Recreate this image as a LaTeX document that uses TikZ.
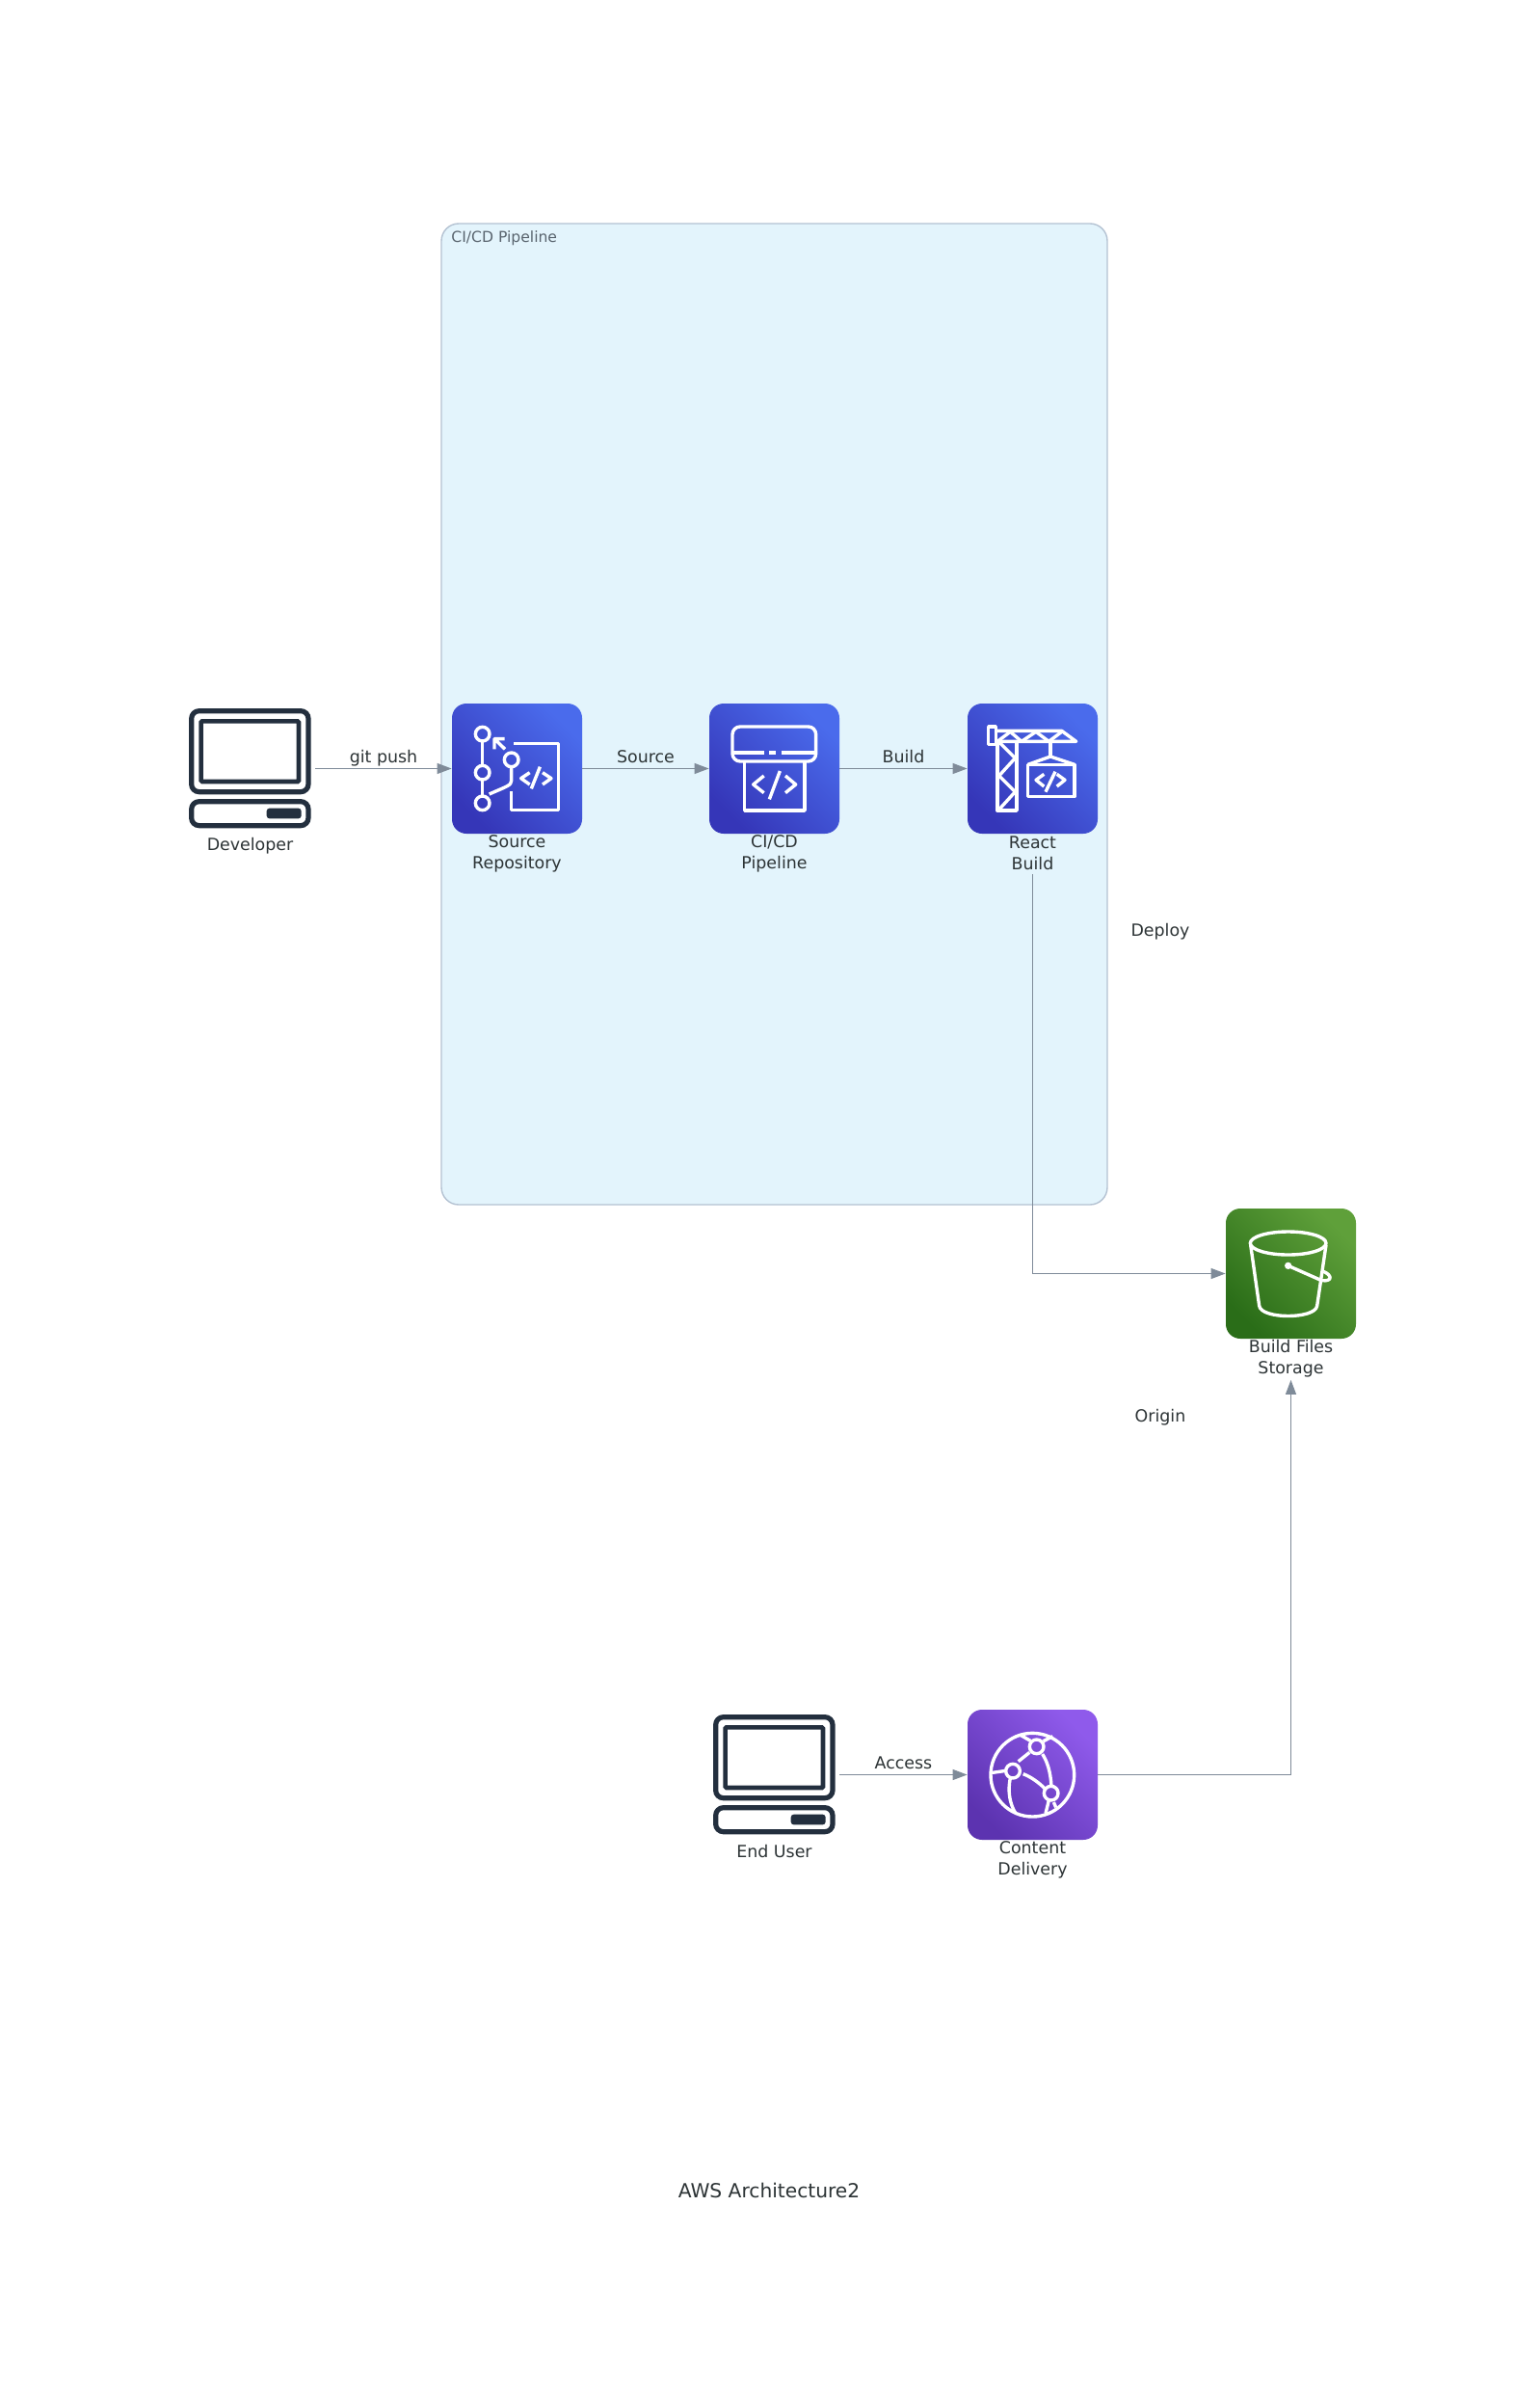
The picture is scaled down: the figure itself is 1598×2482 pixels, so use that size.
\documentclass[tikz,border=0pt]{standalone}
\usepackage{fontspec}
\setmainfont{DejaVu Sans}
\usetikzlibrary{arrows.meta,calc}
\definecolor{inkc}{HTML}{232F3E}
\definecolor{txtc}{HTML}{2D3436}
\definecolor{edgec}{HTML}{7F8B99}
\definecolor{clusterfill}{HTML}{E3F4FC}
\definecolor{clusterline}{HTML}{B4C2D2}
\definecolor{clustertext}{HTML}{59646E}
\definecolor{bluedark}{HTML}{3536B8}
\definecolor{bluelight}{HTML}{4A6BEC}
\definecolor{greendark}{HTML}{2A6D18}
\definecolor{greenlight}{HTML}{5FA03A}
\definecolor{purpledark}{HTML}{5C33B0}
\definecolor{purplelight}{HTML}{8F5AEB}
\tikzset{
  tile/.style={minimum size=67.5pt,inner sep=0pt,rounded corners=7.5pt,shade,shading=axis,bottom color=#1dark,top color=#1light,shading angle=-45},
  ghostbox/.style={minimum size=67.5pt,inner sep=0pt},
  caption/.style={font=\fontsize{8.7pt}{11pt}\selectfont,text=txtc,align=center,inner sep=0pt,minimum height=22pt},
  edgelabel/.style={font=\fontsize{8.7pt}{11pt}\selectfont,text=txtc,inner sep=0pt},
  flowlabel/.style={edgelabel,anchor=base,yshift=2.9pt},
  flow/.style={draw=edgec,line width=0.6pt,-{Triangle[length=7.5pt,width=5.5pt,fill=edgec]}},
  iconat/.style={shift={#1},x=0.16667pt,y=-0.16667pt},
  iconline/.style={draw=white,line width=1.7pt,line join=round,line cap=butt},
  pics/computer/.style={code={
    \draw[draw=inkc,line width=2.6pt,rounded corners=4pt] (8,8) rectangle (372,260);
    \draw[draw=inkc,line width=2.3pt,rounded corners=0.6pt] (38,40) rectangle (342,228);
    \draw[draw=inkc,line width=2.6pt,rounded corners=4pt] (8,290) rectangle (372,365);
    \fill[inkc,rounded corners=1.5pt] (242,311) rectangle (350,343);
  }}
}
\begin{document}
\begin{tikzpicture}[x=0.5pt,y=-0.5pt]
\useasboundingbox[fill=white] (0,0) rectangle (1598,2482);
% cluster
\node[draw=clusterline,fill=clusterfill,line width=0.7pt,rounded corners=9pt,minimum width=345.5pt,minimum height=509pt,inner sep=0pt] (cluster) at (803.5,741) {};
\node[anchor=west,font=\fontsize{7.8pt}{9pt}\selectfont,text=clustertext,inner sep=0pt] (clusterlabel) at (468,247) {CI/CD Pipeline};
% tiles
\node[tile=blue] (src) at (536.5,797.5) {};
\node[tile=blue] (cicd) at (803.5,797.5) {};
\node[tile=blue] (react) at (1071.5,797.5) {};
\node[tile=green] (s3) at (1339.5,1321.5) {};
\node[tile=purple] (cdn) at (1071.5,1841.5) {};
\node[ghostbox] (dev) at (259.5,797.5) {};
\node[ghostbox] (user) at (803.5,1841.5) {};
% computers
\begin{scope}[iconat={(196,735)}] \pic {computer}; \end{scope}
\begin{scope}[iconat={(740,1779)}] \pic {computer}; \end{scope}
% source repository icon
\begin{scope}[iconat={(469,730)}]
  \draw[iconline] (95,95) circle[radius=22] (95,215) circle[radius=22] (95,310) circle[radius=22] (185,175) circle[radius=22];
  \draw[iconline] (95,117) -- (95,193) (95,237) -- (95,288);
  \draw[iconline] (185,197) -- (185,240) .. controls (185,255) and (170,258) .. (116,282);
  \draw[iconline] (165,142) -- (132,110) (132,142) -- (132,110) -- (164,110);
  \draw[iconline] (192,125) -- (332,125) -- (332,332) -- (185,332) -- (185,272);
  \draw[iconline] (242,215) -- (215,233) -- (242,252);
  \draw[iconline] (274,197) -- (247,265);
  \draw[iconline] (282,215) -- (309,233) -- (282,252);
\end{scope}
% pipeline icon
\begin{scope}[iconat={(736,730)}]
  \draw[iconline,rounded corners=4pt] (72,72) rectangle (332,180);
  \draw[iconline] (72,153) -- (170,153) (187,153) -- (207,153) (224,153) -- (332,153);
  \draw[iconline] (110,180) -- (110,333) -- (297,333) -- (297,180);
  \draw[iconline] (170,225) -- (137,252) -- (170,278);
  \draw[iconline] (220,210) -- (187,298);
  \draw[iconline] (237,225) -- (269,252) -- (237,278);
\end{scope}
% crane icon
\begin{scope}[iconat={(1004,730)}]
  \draw[iconline] (65,72) rectangle (88,127);
  \draw[iconline] (88,85) -- (293,85) -- (338,118) -- (88,118);
  \draw[iconline] (93,118) -- (133,88) -- (168,118) -- (213,88) -- (253,118) -- (293,88);
  \draw[iconline] (93,118) -- (93,333) -- (153,333) -- (153,118);
  \draw[iconline] (98,120) -- (148,170) -- (98,225) -- (148,275) -- (98,330);
  \draw[iconline] (258,118) -- (258,165);
  \draw[iconline] (188,190) rectangle (333,290);
  \draw[iconline] (188,190) -- (258,165) -- (333,190);
  \draw[iconline] (238,220) -- (213,238) -- (238,258);
  \draw[iconline] (273,212) -- (243,275);
  \draw[iconline] (278,220) -- (303,238) -- (278,258);
\end{scope}
% bucket icon
\begin{scope}[iconat={(1272,1254)}]
  \draw[iconline] (194,108) ellipse[x radius=118,y radius=36];
  \draw[iconline] (77,113) -- (104,303) .. controls (110,345) and (278,345) .. (284,303) -- (312,113);
  \fill[white] (194,178) circle[radius=11];
  \draw[iconline] (304,196) .. controls (332,208) and (332,228) .. (298,224) -- (194,178);
\end{scope}
% cdn icon
\begin{scope}[iconat={(1004,1774)}]
  \draw[iconline] (202,203) circle[radius=130];
  \draw[iconline] (215,115) circle[radius=22] (141,191) circle[radius=22] (260,260) circle[radius=22];
  \draw[iconline] (158,161) -- (193,133);
  \draw[iconline] (233,138) .. controls (250,165) and (258,195) .. (261,238);
  \draw[iconline] (173,200) .. controls (195,208) and (220,225) .. (240,245);
  \draw[iconline] (133,213) .. controls (125,250) and (130,290) .. (148,320);
  \draw[iconline] (78,196) -- (119,190);
  \draw[iconline] (163,78) -- (196,97);
  \draw[iconline] (236,98) -- (265,83);
  \draw[iconline] (253,282) -- (243,323);
  \draw[iconline] (268,288) -- (275,304);
\end{scope}
% captions
\node[caption] (devcap) at (259.5,878) {Developer};
\node[caption] (srccap) at (536.5,886) {Source\\Repository};
\node[caption] (cicdcap) at (803.5,886) {CI/CD\\Pipeline};
\node[caption] (reactcap) at (1071.5,885) {React\\Build};
\node[caption] (s3cap) at (1339.5,1409.5) {Build Files\\Storage};
\node[caption] (usercap) at (803.5,1921) {End User};
\node[caption] (cdncap) at (1071.5,1929.5) {Content\\Delivery};
% edges
\draw[flow] (dev.east) -- node[flowlabel] (l1) {git push} (src.west);
\draw[flow] (src.east) -- node[flowlabel] (l2) {Source} (cicd.west);
\draw[flow] (cicd.east) -- node[flowlabel] (l3) {Build} (react.west);
\draw[flow] (user.east) -- node[flowlabel] (l4) {Access} (cdn.west);
\draw[flow] (reactcap.south) |- (s3.west);
\draw[flow] (cdn.east) -| (s3cap.south);
\node[edgelabel] (deploy) at (1204,966.5) {Deploy};
\node[edgelabel] (origin) at (1204,1471) {Origin};
\node[font=\fontsize{10.1pt}{12pt}\selectfont,text=txtc,inner sep=0pt] (title) at (798,2272.5) {AWS Architecture2};
\end{tikzpicture}
\end{document}
